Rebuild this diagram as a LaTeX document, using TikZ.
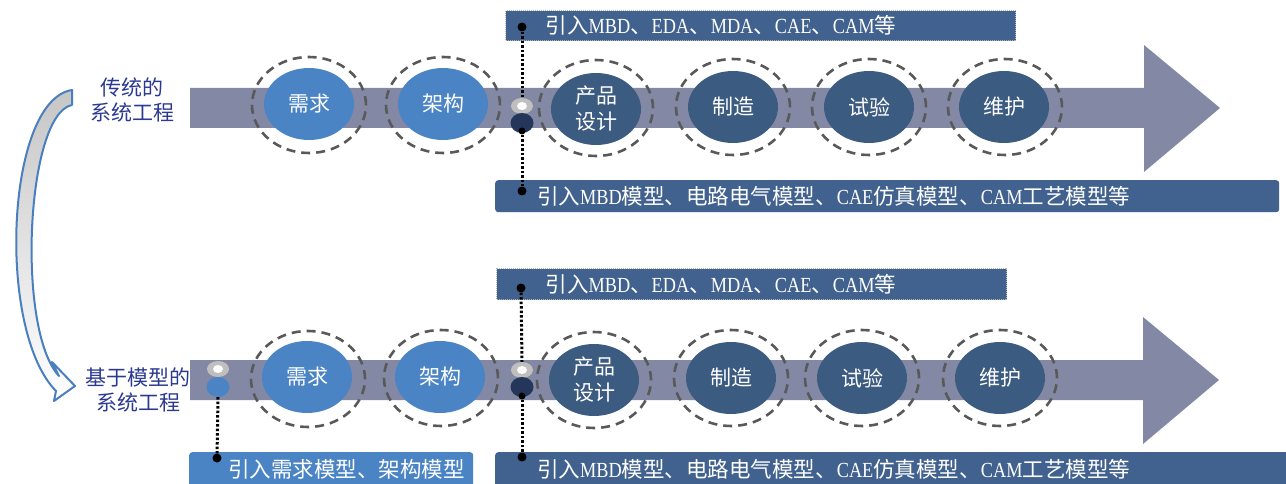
\documentclass[tikz,border=0pt]{standalone}
\usepackage{fontspec}
\setmainfont{Liberation Serif}[FakeStretch=0.85]
\newfontfamily\cjk{Noto Sans CJK SC}
\usetikzlibrary{shapes.geometric}
\definecolor{bandc}{HTML}{8389A5}
\definecolor{lightb}{HTML}{4A84C4}
\definecolor{darkb}{HTML}{3B5B80}
\definecolor{bannerc}{HTML}{41628E}
\definecolor{navyc}{HTML}{24375A}
\definecolor{labelc}{HTML}{2B3990}
\definecolor{ringc}{HTML}{595959}
\definecolor{arrowc}{HTML}{4A7FBF}
\definecolor{markc}{HTML}{BFBFBF}
\tikzset{
  ring/.style={ellipse, draw=ringc, line width=2.6pt, dash pattern=on 9pt off 6pt,
    minimum width=114pt, minimum height=96pt, inner sep=0pt},
  stage/.style={ellipse, minimum width=90pt, minimum height=72pt, inner sep=0pt,
    text=white, font=\cjk\fontsize{21}{26}\selectfont, align=center},
  lightstage/.style={stage, fill=lightb},
  darkstage/.style={stage, fill=darkb},
  banner/.style={fill=bannerc, rounded corners=3pt, anchor=north west, align=left,
    text=white, font=\fontsize{21.5}{24}\selectfont, inner ysep=0pt},
  dotbanner/.style={banner, rounded corners=0pt, draw=gray!60, dash pattern=on 1pt off 1pt, line width=1.2pt},
  bdot/.style={circle, fill=black, inner sep=0pt, minimum size=9pt},
  link/.style={black, line width=3pt, dash pattern=on 2.5pt off 2pt},
  side/.style={text=labelc, font=\cjk\fontsize{21}{25}\selectfont, align=center},
  whitemark/.style={ellipse, fill=markc, minimum width=22pt, minimum height=16pt, inner sep=0pt,
    path picture={\fill[white] (path picture bounding box.center) ellipse (5pt and 4pt);}},
  navymark/.style={ellipse, fill=navyc, minimum width=23pt, minimum height=20pt, inner sep=0pt},
  bluemark/.style={ellipse, fill=lightb, minimum width=23pt, minimum height=20pt, inner sep=0pt},
  band/.style={fill=bandc}
}
\begin{document}
\begin{tikzpicture}[x=1pt, y=-1pt]
\useasboundingbox (0,0) rectangle (1286,484);
\clip (0,0) rectangle (1286,484);

% curved arrow on the left
\draw[arrowc, line width=2pt, top color=gray!45, bottom color=white, line join=round]
  (72,90) .. controls (6,100) and (-4,330) .. (56,391) -- (54,401) -- (75,386) -- (52,362)
  -- (59,376) .. controls (16,330) and (26,114) .. (72,105) -- cycle;

% side labels
\node[side] (lab1) at (132,100) {传统的\\系统工程};
\node[side] (lab2) at (138,390) {基于模型的\\系统工程};

% bands with arrow heads
\fill[band] (190,88) -- (1144,88) -- (1144,45) -- (1220,108) -- (1144,172) -- (1144,128) -- (190,128) -- cycle;
\fill[band] (190,360) -- (1143,360) -- (1143,317) -- (1219,380) -- (1143,444) -- (1143,400) -- (190,400) -- cycle;

% top row stages
\node[ring] (r11) at (309,105) {};
\node[ring] (r12) at (443,105) {};
\node[ring] (r13) at (596,108) {};
\node[ring] (r14) at (733,107) {};
\node[ring] (r15) at (869,107) {};
\node[ring] (r16) at (1005,107) {};
\node[lightstage] (s11) at (309,104) {需求};
\node[lightstage] (s12) at (443,104) {架构};
\node[darkstage] (s13) at (596,109) {产品\\设计};
\node[darkstage] (s14) at (733,107) {制造};
\node[darkstage] (s15) at (869,107) {试验};
\node[darkstage] (s16) at (1004,107) {维护};

% bottom row stages
\node[ring] (r21) at (308,379) {};
\node[ring] (r22) at (441,378) {};
\node[ring] (r23) at (594,380) {};
\node[ring] (r24) at (731,378) {};
\node[ring] (r25) at (862,378) {};
\node[ring] (r26) at (1000,378) {};
\node[lightstage] (s21) at (307,377) {需求};
\node[lightstage] (s22) at (440,377) {架构};
\node[darkstage] (s23) at (594,380) {产品\\设计};
\node[darkstage] (s24) at (731,378) {制造};
\node[darkstage] (s25) at (862,378) {试验};
\node[darkstage] (s26) at (1000,378) {维护};

% banners
\node[dotbanner, minimum width=510pt, minimum height=30pt, inner xsep=40pt, text width=430pt] (tb1) at (505,10)
  {{\cjk 引入}MBD{\cjk 、}EDA{\cjk 、}MDA{\cjk 、}CAE{\cjk 、}CAM{\cjk 等}};
\node[banner, minimum width=784pt, minimum height=32pt, inner xsep=42pt, text width=700pt] (bb1) at (495,180)
  {{\cjk 引入}MBD{\cjk 模型、电路电气模型、}CAE{\cjk 仿真模型、}CAM{\cjk 工艺模型等}};
\node[dotbanner, minimum width=510pt, minimum height=31pt, inner xsep=49pt, text width=412pt] (tb2) at (496,268)
  {{\cjk 引入}MBD{\cjk 、}EDA{\cjk 、}MDA{\cjk 、}CAE{\cjk 、}CAM{\cjk 等}};
\node[banner, fill=lightb, minimum width=284pt, minimum height=40pt, inner xsep=39pt, text width=206pt, text depth=8pt] (lb2) at (189,452)
  {{\cjk 引入需求模型、架构模型}};
\node[banner, minimum width=800pt, minimum height=40pt, inner xsep=42pt, text width=716pt, text depth=8pt] (rb2) at (495,452)
  {{\cjk 引入}MBD{\cjk 模型、电路电气模型、}CAE{\cjk 仿真模型、}CAM{\cjk 工艺模型等}};

% top row markers and connectors
\node[bdot] (d11) at (522,27) {};
\node[bdot] (d13) at (522,191) {};
\node[whitemark] (w1) at (522,106) {};
\node[navymark] (n1) at (522,123) {};
\node[bdot, minimum size=7pt] (d12) at (522,131) {};
\draw[link] (d11) -- (w1.north);
\draw[link] (d12) -- (d13);

% bottom row markers and connectors
\node[bdot] (d21) at (521,288) {};
\node[bdot] (d23) at (522,457) {};
\node[whitemark] (w2) at (522,370) {};
\node[navymark] (n2) at (522,387) {};
\node[bdot, minimum size=7pt] (d22) at (522,396) {};
\draw[link] (d21) -- (w2.north);
\draw[link] (d22) -- (d23);

\node[whitemark] (w3) at (218,369) {};
\node[bluemark] (n3) at (218,387) {};
\node[bdot] (d31) at (217,458) {};
\draw[link] (n3.south) -- (d31);
\end{tikzpicture}
\end{document}
